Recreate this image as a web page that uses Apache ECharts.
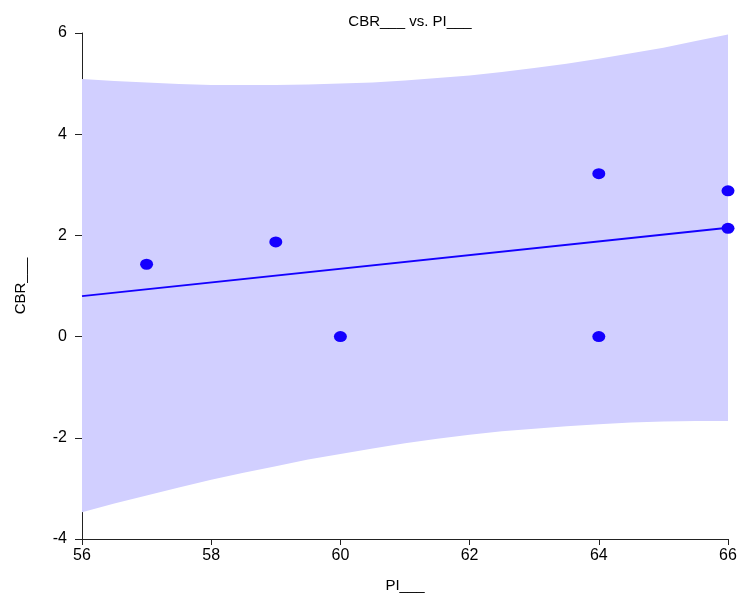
<!DOCTYPE html>
<html>
<head>
<meta charset="utf-8">
<script src="https://cdn.jsdelivr.net/npm/echarts@6/dist/echarts.min.js"></script>
<style>
  html, body { margin: 0; padding: 0; background: #fff; }
  #chart { width: 741px; height: 599px; }
</style>
</head>
<body>
<div id="chart"></div>
<script>
// Observations
const piValues = [57, 59, 60, 64, 64, 66, 66];
const cbrValues = [1.43, 1.87, 0, 3.22, 0, 2.88, 2.14];

// Fitted line end points
const fitX = [56, 66];
const fitY = [0.80, 2.15];

// Prediction band (upper / lower edges)
const bandX = [56, 56.5, 57, 57.5, 58, 58.5, 59, 59.5, 60, 60.5, 61, 61.5, 62, 62.5, 63, 63.5, 64, 64.5, 65, 65.5, 66];
const bandUpper = [5.09, 5.05, 5.02, 4.99, 4.97, 4.97, 4.97, 4.98, 5.00, 5.02, 5.06, 5.11, 5.16, 5.23, 5.31, 5.39, 5.49, 5.60, 5.71, 5.84, 5.97];
const bandLower = [-3.47, -3.30, -3.14, -2.98, -2.83, -2.69, -2.56, -2.43, -2.32, -2.21, -2.11, -2.02, -1.94, -1.87, -1.82, -1.77, -1.73, -1.70, -1.68, -1.67, -1.67];

// Axis ticks
const xTicks = [56, 58, 60, 62, 64, 66];
const yTicks = [-4, -2, 0, 2, 4, 6];

const FONT = 'Liberation Sans, Arial, sans-serif';
const BLUE = '#1400ff';
const AXIS = '#222222';

const bandData = bandX.map((x, i) => [x, bandUpper[i], bandLower[i]]);

const chart = echarts.init(document.getElementById('chart'), null, { renderer: 'canvas' });
chart.setOption({
  animation: false,
  backgroundColor: '#ffffff',
  title: {
    text: 'CBR___ vs. PI___',
    left: 405,
    top: 9,
    textAlign: 'center',
    textStyle: { fontFamily: FONT, fontSize: 15, fontWeight: 'normal', color: '#000' }
  },
  grid: { left: 82, right: 13, top: 33, bottom: 60, containLabel: false },
  xAxis: {
    type: 'value',
    min: xTicks[0],
    max: xTicks[xTicks.length - 1],
    interval: 2,
    name: 'PI___',
    nameLocation: 'middle',
    nameGap: 39,
    nameTextStyle: { fontFamily: FONT, fontSize: 15, color: '#000' },
    axisLine: { show: true, onZero: false, lineStyle: { color: AXIS, width: 1 } },
    axisTick: { show: true, inside: false, length: 6, lineStyle: { color: AXIS } },
    axisLabel: { fontFamily: FONT, fontSize: 16, color: '#000', margin: 9 },
    splitLine: { show: false }
  },
  yAxis: {
    type: 'value',
    min: yTicks[0],
    max: yTicks[yTicks.length - 1],
    interval: 2,
    name: 'CBR___',
    nameLocation: 'middle',
    nameGap: 54,
    nameRotate: 90,
    nameTextStyle: { fontFamily: FONT, fontSize: 15, color: '#000' },
    axisLine: { show: true, onZero: false, lineStyle: { color: AXIS, width: 1 } },
    axisTick: { show: true, inside: false, length: 7, lineStyle: { color: AXIS } },
    axisLabel: { fontFamily: FONT, fontSize: 16, color: '#000', margin: 15 },
    splitLine: { show: false }
  },
  series: [
    {
      type: 'custom',
      name: 'band',
      silent: true,
      z: 1,
      data: bandData,
      encode: { x: 0, y: [1, 2] },
      renderItem: function (params, api) {
        if (params.dataIndex !== 0) return null;
        const pts = [];
        for (let i = 0; i < bandData.length; i++) pts.push(api.coord([bandData[i][0], bandData[i][1]]));
        for (let i = bandData.length - 1; i >= 0; i--) pts.push(api.coord([bandData[i][0], bandData[i][2]]));
        return {
          type: 'polygon',
          shape: { points: pts },
          style: { fill: '#d1cfff', stroke: null }
        };
      }
    },
    {
      type: 'line',
      name: 'fit',
      z: 3,
      data: fitX.map((x, i) => [x, fitY[i]]),
      symbol: 'none',
      lineStyle: { color: BLUE, width: 2 }
    },
    {
      type: 'scatter',
      name: 'obs',
      z: 4,
      data: piValues.map((x, i) => [x, cbrValues[i]]),
      symbol: 'circle',
      symbolSize: [13, 11],
      itemStyle: { color: BLUE, opacity: 1 }
    }
  ]
});
</script>
</body>
</html>
